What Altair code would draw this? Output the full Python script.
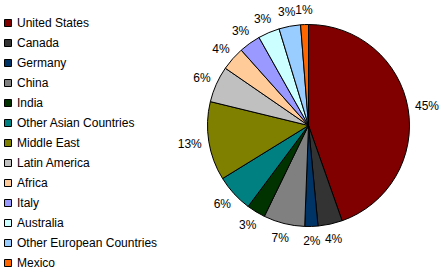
import altair as alt
import pandas as pd

countries = ["United States", "Canada", "Germany", "China", "India",
             "Other Asian Countries", "Middle East", "Latin America", "Africa",
             "Italy", "Australia", "Other European Countries", "Mexico"]
shares = [44.6, 3.9, 2.1, 6.6, 3.0, 6.0, 12.6, 5.8, 3.8, 3.45, 3.45, 3.45, 1.25]
colors = ["#800000", "#333333", "#003366", "#808080", "#003300", "#008080",
          "#808000", "#C0C0C0", "#FFCC99", "#9999FF", "#CCFFFF", "#99CCFF", "#FF6600"]

total = sum(shares)
df = pd.DataFrame({
    "country": countries,
    "share": shares,
    "order": list(range(len(countries))),
    "label": [f"{round(s / total * 100)}%" for s in shares],
})

CX, CY = 308.5, 125.5
R = 101
GAP = 7
HH = 8
FONT = "Liberation Sans"

arcs = alt.Chart(df).mark_arc(outerRadius=R, stroke="black", strokeWidth=1).encode(
    theta=alt.Theta("share:Q", stack=True),
    order=alt.Order("order:Q", sort="ascending"),
    x=alt.value(CX), y=alt.value(CY),
    color=alt.Color(
        "country:N",
        scale=alt.Scale(domain=countries, range=colors),
        sort=countries,
        legend=alt.Legend(
            title=None, orient="none", legendX=2, legendY=17,
            symbolType="square", symbolSize=49, symbolStrokeColor="black",
            symbolStrokeWidth=1, symbolOpacity=1,
            labelFont=FONT, labelFontSize=12, labelColor="black",
            rowPadding=8, labelOffset=3, padding=0, offset=0,
            labelLimit=300,
        ),
    ),
)

labels = alt.Chart(df).transform_window(
    cum="sum(share)", sort=[alt.SortField("order")], frame=[None, 0]
).transform_joinaggregate(
    tot="sum(share)"
).transform_calculate(
    mid="(datum.cum - datum.share / 2) / datum.tot * 2 * PI",
    hw="2 + length(datum.label) * 3.4",
).transform_calculate(
    lx=f"{CX} + ({R} + {GAP} + datum.hw) * sin(datum.mid)",
    ly=f"{CY} - ({R} + {GAP} + {HH}) * cos(datum.mid)",
).mark_text(font=FONT, fontSize=12, color="black", baseline="middle").encode(
    x=alt.X("lx:Q", scale=None, axis=None),
    y=alt.Y("ly:Q", scale=None, axis=None),
    text="label:N",
)

chart = alt.layer(arcs, labels).properties(
    width=441, height=275,
    autosize=alt.AutoSizeParams(type="none"),
    padding=0,
).configure_view(stroke=None)

chart.save("out.html", embed_options={"renderer": "svg", "actions": False})
